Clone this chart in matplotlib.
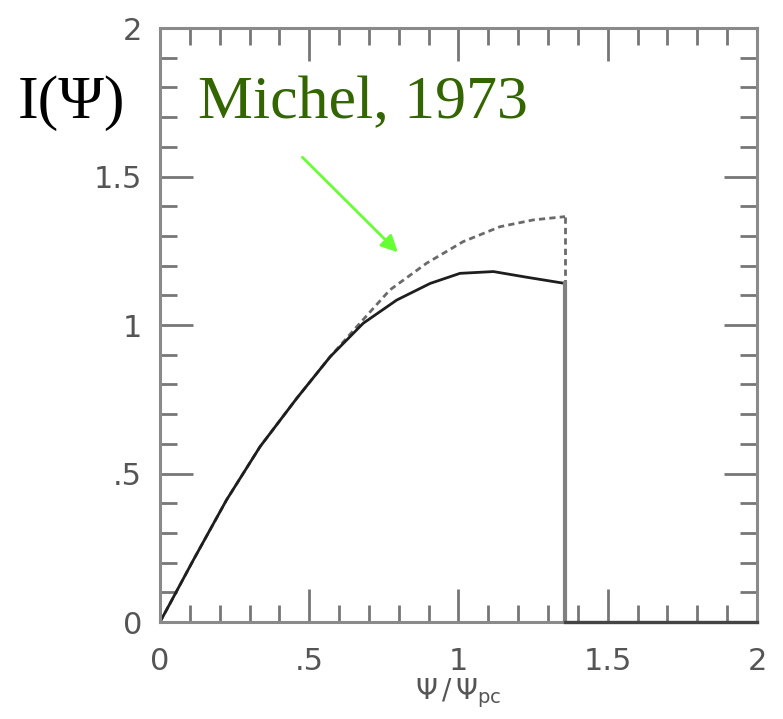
import matplotlib
matplotlib.use('Agg')
from matplotlib import pyplot as plt

# current profile along the polar cap
psi = [0, 0.034, 0.112, 0.223, 0.335, 0.458, 0.570, 0.681, 0.793,
       0.905, 1.005, 1.117, 1.228, 1.357]
current = [0, 0.063, 0.209, 0.411, 0.590, 0.753, 0.893, 1.006, 1.084,
           1.140, 1.174, 1.180, 1.161, 1.140]

# Michel (1973) solution, same as above up to ~0.6
psi_michel = [0, 0.034, 0.112, 0.223, 0.335, 0.458, 0.570, 0.659, 0.770,
              0.893, 1.016, 1.139, 1.251, 1.357]
current_michel = [0, 0.063, 0.209, 0.411, 0.590, 0.753, 0.893, 0.994, 1.118,
                  1.208, 1.281, 1.331, 1.354, 1.365]

psi_edge = 1.357
xticks = [0, 0.5, 1, 1.5, 2]
xticklabels = ['0', '.5', '1', '1.5', '2']
yticks = [0, 0.5, 1, 1.5, 2]
yticklabels = ['0', '.5', '1', '1.5', '2']

plt.rcParams['lines.scale_dashes'] = False
plt.rcParams['mathtext.fontset'] = 'dejavusans'

fig = plt.figure(figsize=(7.83, 7.19), dpi=100)
ax = fig.add_axes([0.2043, 0.1349, 0.7625, 0.8261])

# dashed Michel curve and its closing edge
ax.plot(psi_michel, current_michel, color='#6a6a6a', lw=2, dashes=(4.5, 3))
ax.plot([psi_edge, psi_edge], [current_michel[-1], current[-1]],
        color='#6a6a6a', lw=2, dashes=(4.5, 3))

# solid curve, drop at the edge, zero beyond
ax.plot(psi, current, color='#1e1e1e', lw=2)
ax.plot([psi_edge, psi_edge], [current[-1], 0], color='#808080', lw=3)
ax.plot([psi_edge, 2], [0, 0], color='#444444', lw=2.4, clip_on=False, zorder=5)

ax.set_xlim(0, 2)
ax.set_ylim(0, 2)
ax.set_xticks(xticks)
ax.set_xticklabels(xticklabels)
ax.set_yticks(yticks)
ax.set_yticklabels(yticklabels)
ax.set_xticks([i / 10 for i in range(21)], minor=True)
ax.set_yticks([i / 10 for i in range(21)], minor=True)

for s in ax.spines.values():
    s.set_color('#8a8a8a')
    s.set_linewidth(2.2)

ax.tick_params(which='both', direction='in', top=True, right=True,
               color='#777777', width=2)
ax.tick_params(which='major', length=24)
ax.tick_params(which='minor', length=12)
ax.tick_params(axis='x', which='major', pad=18, labelsize=22, labelcolor='#555555')
ax.tick_params(axis='y', which='major', pad=13, labelsize=22, labelcolor='#555555')

ax.set_xlabel(r'$\Psi\,/\,\Psi_{\mathrm{pc}}$', fontsize=20, color='#555555', labelpad=0)

ax.text(0.127, 1.697, 'Michel, 1973', family='Liberation Serif', fontsize=44.6,
        color='#336600', va='baseline', ha='left')
fig.text(18 / 783, (719 - 118) / 719, 'I(Ψ)', family='Liberation Serif',
         fontsize=44.6, color='black', va='baseline', ha='left')

ax.annotate('', xy=(0.797, 1.245), xytext=(0.477, 1.565),
            arrowprops=dict(arrowstyle='-|>,head_length=1.0,head_width=0.5',
                            color='#66ff33', lw=2, shrinkA=0, shrinkB=0))

plt.savefig('out.png', dpi=100)
